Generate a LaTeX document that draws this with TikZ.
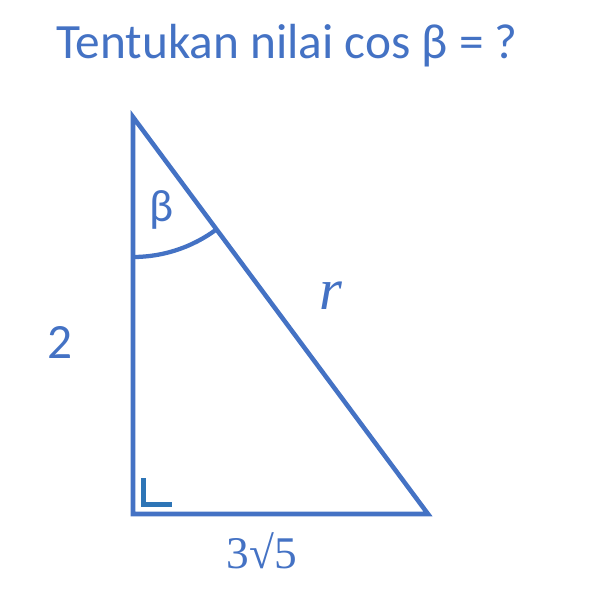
\documentclass[tikz,border=0pt]{standalone}
\usepackage{fontspec}
\setmainfont{Carlito}
\newfontfamily\serifmath{Liberation Serif}
\definecolor{officeblue}{HTML}{4472C4}
\definecolor{markblue}{HTML}{2E75B6}

\begin{document}
\begin{tikzpicture}[
    x=0.75pt, y=-0.75pt,
    side/.style={draw=officeblue, line width=3.4pt},
    sqmark/.style={draw=markblue, line width=4pt},
    txt/.style={text=officeblue, inner sep=0pt, font=\fontsize{37}{44}\selectfont},
    numtxt/.style={text=officeblue, inner sep=0pt, font=\serifmath\fontsize{34}{40}\selectfont}
]
\useasboundingbox (0,0) rectangle (592,610);

% Title
\node[txt] (title) at (287,46) {Tentukan nilai cos β = ?};

% Vertices
\coordinate (top) at (133,117);
\coordinate (corner) at (133,514);
\coordinate (right) at (428,514);

% Triangle
\draw[side] (top) -- (corner) -- (right) -- cycle;

% Angle beta
\draw[side, line width=3.2pt] (top) ++(53.4:140) arc[start angle=53.4, end angle=90, radius=140];
\node[txt, font=\fontsize{34}{40}\selectfont] (beta) at (162,210) {β};

% Right angle
\draw[sqmark] (corner) ++(10.5,-36) -- ++(0,26.5) -- ++(28,0);

% Side labels
\node[txt] (h) at (60,342) {2};
\node[numtxt, font=\serifmath\itshape\fontsize{44}{52}\selectfont] (r) at (331,296) {r};
\node[numtxt] (b) at (262,551) {3√5};

\end{tikzpicture}
\end{document}
